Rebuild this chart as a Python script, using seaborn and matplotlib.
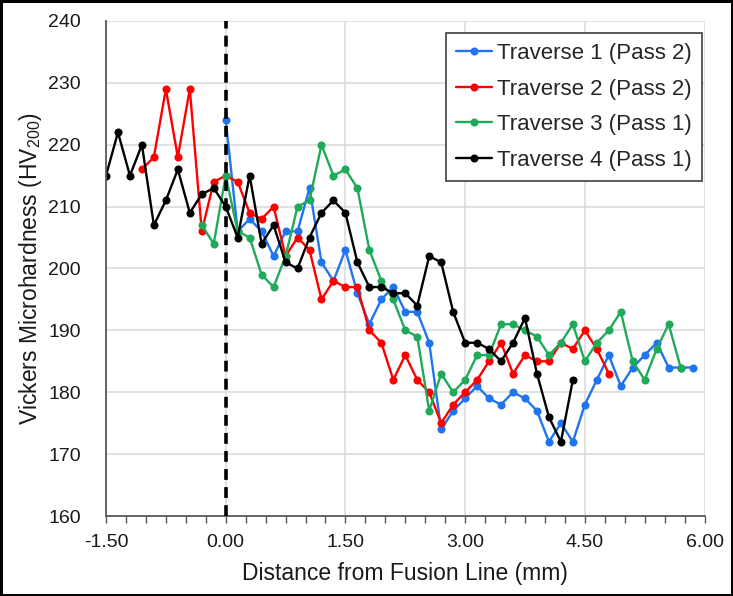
import numpy as np
import pandas as pd
import seaborn as sns
import matplotlib
matplotlib.use("Agg")
import matplotlib.pyplot as plt
from matplotlib.ticker import MultipleLocator, FormatStrFormatter

# ---- data ----
series_names = ["Traverse 1 (Pass 2)", "Traverse 2 (Pass 2)",
                "Traverse 3 (Pass 1)", "Traverse 4 (Pass 1)"]
series_colors = ["#1F74F0", "#FF0000", "#1FAA59", "#000000"]

t1_start = 0.0
t1_hv = [224, 206, 208, 206, 202, 206, 206, 213, 201, 198, 203, 196, 191, 195,
         197, 193, 193, 188, 174, 177, 179, 181, 179, 178, 180, 179, 177, 172,
         175, 172, 178, 182, 186, 181, 184, 186, 188, 184, 184, 184]

t2_start = -1.05
t2_hv = [216, 218, 229, 218, 229, 206, 214, 215, 214, 209, 208, 210, 202, 205,
         203, 195, 198, 197, 197, 190, 188, 182, 186, 182, 180, 175, 178, 180,
         182, 185, 188, 183, 186, 185, 185, 188, 187, 190, 187, 183]

t3_start = -0.3
t3_hv = [207, 204, 215, 206, 205, 199, 197, 202, 210, 211, 220, 215, 216, 213,
         203, 198, 195, 190, 189, 177, 183, 180, 182, 186, 186, 191, 191, 190,
         189, 186, 188, 191, 185, 188, 190, 193, 185, 182, 187, 191, 184]

t4_start = -1.5
t4_hv = [215, 222, 215, 220, 207, 211, 216, 209, 212, 213, 210, 205, 215, 204,
         207, 201, 200, 205, 209, 211, 209, 201, 197, 197, 196, 196, 194, 202,
         201, 193, 188, 188, 187, 185, 188, 192, 183, 176, 172, 182]

step = 0.15  # indent spacing (mm)

x_ticks = [-1.5, 0.0, 1.5, 3.0, 4.5, 6.0]
y_ticks = [160, 170, 180, 190, 200, 210, 220, 230, 240]

# ---- build long-form table ----
rows = []
for name, start, vals in zip(series_names,
                             [t1_start, t2_start, t3_start, t4_start],
                             [t1_hv, t2_hv, t3_hv, t4_hv]):
    for i, v in enumerate(vals):
        rows.append({"x": round(start + i * step, 4), "hv": v, "series": name})
df = pd.DataFrame(rows)

# ---- style ----
sns.set_theme(style="whitegrid")
plt.rcParams["font.family"] = ["Liberation Sans", "DejaVu Sans"]
plt.rcParams["mathtext.fontset"] = "custom"
plt.rcParams["mathtext.rm"] = "Liberation Sans"
plt.rcParams["mathtext.it"] = "Liberation Sans:italic"

fig = plt.figure(figsize=(7.33, 5.96), dpi=100)
fig.patch.set_facecolor("white")
fig.patch.set_edgecolor("black")
fig.patch.set_linewidth(2.5)
ax = fig.add_axes([0.1446, 0.1342, 0.8166, 0.8306])

sns.lineplot(data=df, x="x", y="hv", hue="series", hue_order=series_names,
             palette=series_colors, estimator=None, sort=False,
             marker="o", markersize=5.8, markeredgewidth=0,
             linewidth=1.7, legend=False, ax=ax)

# dashed fusion line
ax.axvline(0.0, color="black", linestyle=(0, (3, 2)), linewidth=2.6, zorder=5)

ax.set_xlim(-1.5, 6.0)
ax.set_ylim(160, 240)
ax.set_xticks(x_ticks)
ax.set_yticks(y_ticks)
ax.xaxis.set_major_formatter(FormatStrFormatter("%.2f"))
ax.xaxis.set_minor_locator(MultipleLocator(0.25))

ax.grid(True, which="major", color="#D9D9D9", linewidth=1.1)
ax.grid(False, which="minor")
for s in ["top", "right"]:
    ax.spines[s].set_visible(False)
for s in ["left", "bottom"]:
    ax.spines[s].set_visible(True)
    ax.spines[s].set_color("#595959")
    ax.spines[s].set_linewidth(1.3)

ax.tick_params(axis="x", which="both", direction="out", length=5, width=1,
               color="#595959", bottom=True, labelsize=14, pad=8,
               labelcolor="#1a1a1a")
ax.tick_params(axis="y", which="both", length=0, labelsize=14, pad=18,
               labelcolor="#1a1a1a")

ax.set_xlabel("Distance from Fusion Line (mm)", fontsize=16.5, labelpad=8,
              color="#1a1a1a")
ax.set_ylabel(r"Vickers Microhardness (HV$_{200}$)", fontsize=16.5,
              labelpad=3, color="#1a1a1a")

handles = ax.lines[:4]
leg = ax.legend(handles, series_names, loc="upper right",
                bbox_to_anchor=(1.003, 0.985), fontsize=16,
                frameon=True, fancybox=False, framealpha=1,
                edgecolor="#404040", handlelength=1.6, handletextpad=0.25,
                labelspacing=0.66, borderpad=0.45, borderaxespad=0.2)
leg.get_frame().set_linewidth(1.2)

fig.savefig("out.png", dpi=100, facecolor="white",
            edgecolor=fig.patch.get_edgecolor())
